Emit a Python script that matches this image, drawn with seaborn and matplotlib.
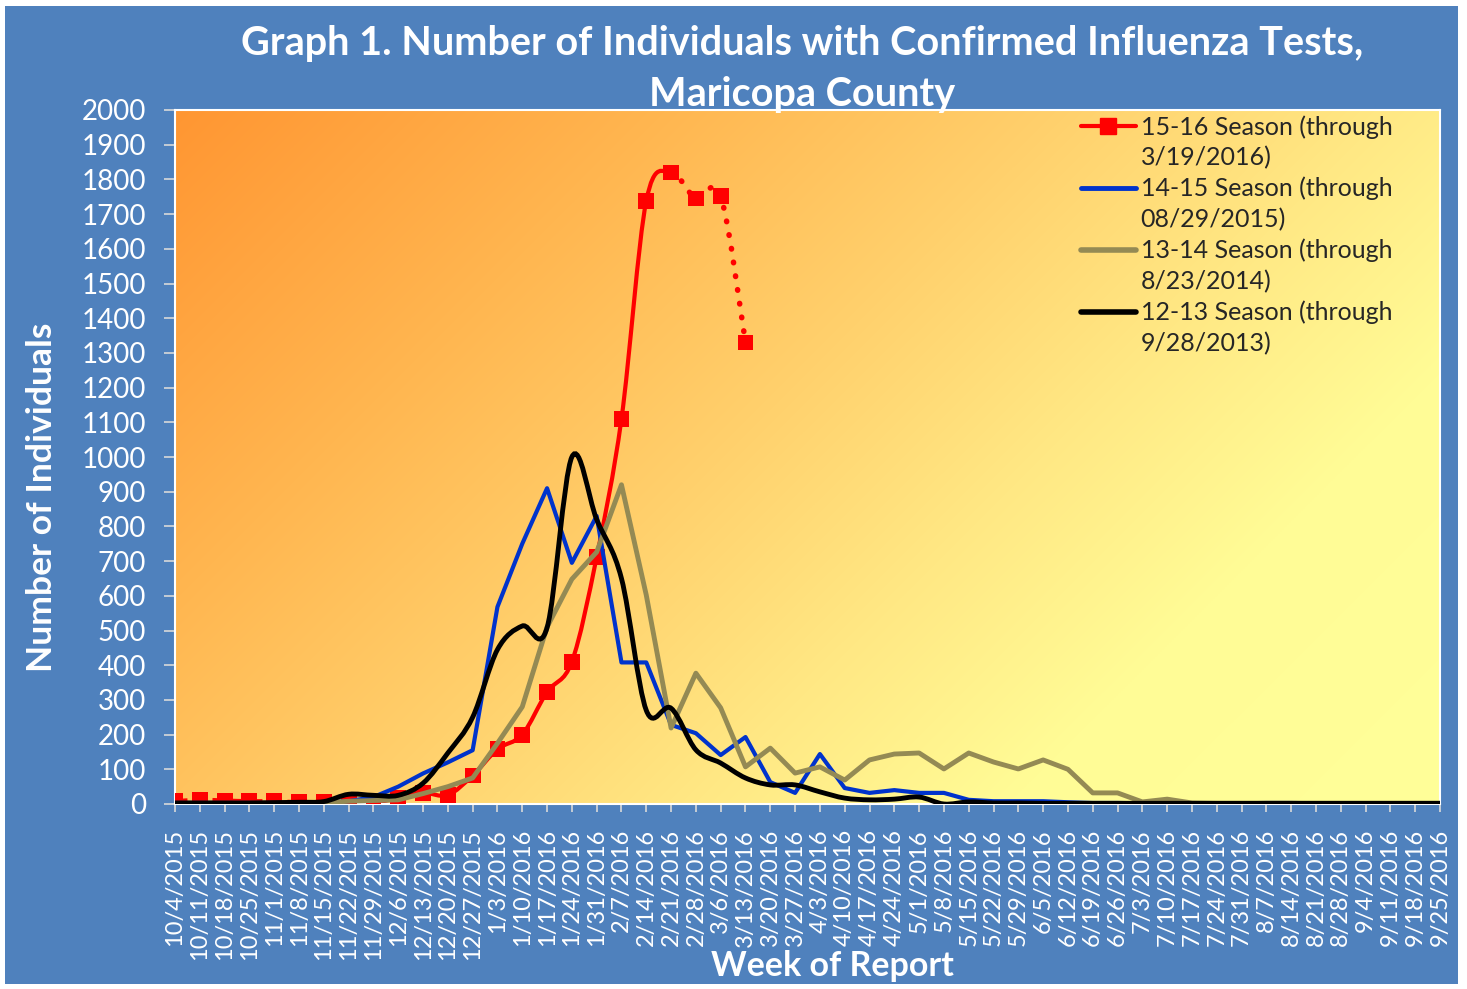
import numpy as np
import pandas as pd
import matplotlib.pyplot as plt
import seaborn as sns
from matplotlib.path import Path
from matplotlib.patches import PathPatch, Rectangle
from matplotlib.lines import Line2D

# Data
weeks = ['10/4/2015', '10/11/2015', '10/18/2015', '10/25/2015', '11/1/2015', '11/8/2015',
         '11/15/2015', '11/22/2015', '11/29/2015', '12/6/2015', '12/13/2015', '12/20/2015',
         '12/27/2015', '1/3/2016', '1/10/2016', '1/17/2016', '1/24/2016', '1/31/2016',
         '2/7/2016', '2/14/2016', '2/21/2016', '2/28/2016', '3/6/2016', '3/13/2016',
         '3/20/2016', '3/27/2016', '4/3/2016', '4/10/2016', '4/17/2016', '4/24/2016',
         '5/1/2016', '5/8/2016', '5/15/2016', '5/22/2016', '5/29/2016', '6/5/2016',
         '6/12/2016', '6/19/2016', '6/26/2016', '7/3/2016', '7/10/2016', '7/17/2016',
         '7/24/2016', '7/31/2016', '8/7/2016', '8/14/2016', '8/21/2016', '8/28/2016',
         '9/4/2016', '9/11/2016', '9/18/2016', '9/25/2016']

season_15_16 = [8, 12, 10, 8, 8, 5, 5, 2, 3, 18, 32, 26, 82, 158, 200, 323, 410, 712,
                1110, 1738, 1820, 1745, 1752, 1330]

season_14_15 = [3, 3, 3, 3, 3, 3, 4, 8, 20, 50, 88, 120, 155, 568, 750, 910, 695, 830,
                408, 408, 228, 204, 141, 193, 63, 32, 144, 46, 32, 40, 32, 32, 12, 8, 8, 8,
                5, 3, 3, 2, 2, 2, 2, 2, 3, 3, 2, 2, 2, 2, 2, 2]

season_13_14 = [2, 2, 2, 2, 2, 2, 3, 8, 10, 12, 30, 50, 75, 175, 280, 510, 648, 726,
                920, 602, 219, 377, 277, 107, 161, 89, 107, 69, 127, 144, 147, 101, 147, 121,
                101, 127, 100, 32, 32, 6, 14, 3, 2, 2, 2, 2, 2, 2, 2, 2, 2, 2]

season_12_13 = [3, 3, 3, 3, 4, 5, 7, 28, 25, 25, 60, 147, 250, 445, 513, 508, 1000, 820,
                650, 270, 276, 156, 118, 75, 55, 55, 35, 17, 12, 14, 20, 0, 6, 3, 3, 2, 2, 2,
                2, 2, 2, 2, 2, 2, 2, 2, 2, 2, 2, 2, 2, 2]

labels = ['15-16 Season (through', '3/19/2016)',
          '14-15 Season (through', '08/29/2015)',
          '13-14 Season (through', '8/23/2014)',
          '12-13 Season (through', '9/28/2013)']

BG_BLUE = '#4F81BD'
RED = '#FF0000'
BLUE = '#0033CC'
OLIVE = '#948A54'


def smooth_path(xs, ys, start, end):
    # Excel-style smoothed line: cubic bezier through the points
    n = len(xs)
    verts = [(xs[start], ys[start])]
    codes = [Path.MOVETO]
    for i in range(start, end):
        a = i - 1 if i > 0 else i
        d = i + 2 if i + 2 < n else i + 1
        c1 = (xs[i] + (xs[i + 1] - xs[a]) / 6, ys[i] + (ys[i + 1] - ys[a]) / 6)
        c2 = (xs[i + 1] - (xs[d] - xs[i]) / 6, ys[i + 1] - (ys[d] - ys[i]) / 6)
        verts += [c1, c2, (xs[i + 1], ys[i + 1])]
        codes += [Path.CURVE4] * 3
    return Path(verts, codes)


sns.set_style('ticks')
plt.rcParams['font.family'] = ['Lato', 'DejaVu Sans']

fig = plt.figure(figsize=(14.67, 9.89), dpi=100)
fig.patch.set_facecolor('white')
fig.patches.append(Rectangle((5 / 1467, 5 / 989), 1453 / 1467, 978 / 989,
                             transform=fig.transFigure, facecolor=BG_BLUE,
                             edgecolor='none', zorder=-10))

ax = fig.add_axes([175 / 1467, 185 / 989, 1265 / 1467, 694 / 989])
ax.set_facecolor('none')

# gradient fill of the plot area
h, w = 300, 550
u = np.linspace(0, 1, w)[None, :]
v = np.linspace(0, 1, h)[:, None]
t = (u * 1265 + v * 694) / (1265 + 694)
stops = [0, 0.25, 0.45, 0.62, 0.78, 1]
cols = np.array([[255, 150, 50], [255, 182, 80], [255, 208, 108], [255, 232, 132],
                 [255, 252, 150], [255, 255, 153]]) / 255
grad = np.dstack([np.interp(t, stops, cols[:, k]) for k in range(3)])
ax.imshow(grad, extent=[0, 1, 0, 1], transform=ax.transAxes, aspect='auto',
          zorder=0, interpolation='bilinear')

x = np.arange(len(weeks))
df = pd.DataFrame({'week': x, '14-15': season_14_15, '13-14': season_13_14})

# 15-16 season: smoothed line in three styles + square markers
xr = np.arange(len(season_15_16))
ax.add_patch(PathPatch(smooth_path(xr, season_15_16, 0, 9), fill=False, edgecolor=RED,
                       lw=3, linestyle=(0, (3, 1.5)), zorder=2))
ax.add_patch(PathPatch(smooth_path(xr, season_15_16, 9, 20), fill=False, edgecolor=RED,
                       lw=3, zorder=2))
ax.add_patch(PathPatch(smooth_path(xr, season_15_16, 20, 23), fill=False, edgecolor=RED,
                       lw=4, linestyle=(0, (0.1, 2.4)), capstyle='round', zorder=2))
sns.scatterplot(x=xr, y=season_15_16, marker='s', s=130, color=RED, edgecolor='none',
                ax=ax, zorder=3)

sns.lineplot(data=df, x='week', y='14-15', color=BLUE, lw=3, ax=ax, zorder=4)
sns.lineplot(data=df, x='week', y='13-14', color=OLIVE, lw=3.5, ax=ax, zorder=5)
ax.add_patch(PathPatch(smooth_path(x, season_12_13, 0, len(x) - 1), fill=False,
                       edgecolor='black', lw=3.5, zorder=6))

ax.set_xlim(0, len(weeks) - 1)
ax.set_ylim(0, 2000)
ax.set_xticks(x)
ax.set_xticklabels(weeks, rotation=90)
ax.set_yticks(range(0, 2001, 100))
ax.set_xlabel('')
ax.set_ylabel('')
ax.tick_params(axis='y', colors='#D9D9D9', labelcolor='white', labelsize=20,
               length=8, width=1.2, pad=13)
ax.tick_params(axis='x', colors='#D9D9D9', labelcolor='white', labelsize=17,
               length=6, width=1.2, pad=12)
for sp in ax.spines.values():
    sp.set_visible(True)
    sp.set_color('white')
    sp.set_linewidth(1.5)

# legend: one row per text line, handle only on the first line
handles = [Line2D([], [], color=RED, lw=3, marker='s', markersize=11),
           Line2D([], [], color='none'),
           Line2D([], [], color=BLUE, lw=3.5),
           Line2D([], [], color='none'),
           Line2D([], [], color=OLIVE, lw=4),
           Line2D([], [], color='none'),
           Line2D([], [], color='black', lw=4),
           Line2D([], [], color='none')]
ax.legend(handles, labels, loc='upper left', bbox_to_anchor=(0.712, 1.0),
          frameon=False, fontsize=18, handlelength=2.2, handletextpad=0.2,
          labelspacing=0.3, borderaxespad=0, borderpad=0.2)

fig.text(802 / 1467, 1 - 69 / 989,
         'Graph 1. Number of Individuals with Confirmed Influenza Tests,\nMaricopa County',
         ha='center', va='center', color='white', fontsize=28.5, fontweight='bold',
         linespacing=1.45)
fig.text(42 / 1467, 1 - 497 / 989, 'Number of Individuals', rotation=90, ha='center',
         va='center', color='white', fontsize=25.5, fontweight='bold')
fig.text(832 / 1467, 1 - 966 / 989, 'Week of Report', ha='center', va='center',
         color='white', fontsize=24.5, fontweight='bold')

fig.savefig('out.png', dpi=100)
